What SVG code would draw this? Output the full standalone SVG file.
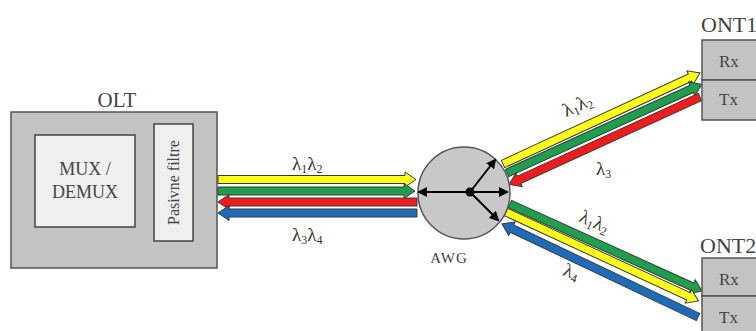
<svg xmlns="http://www.w3.org/2000/svg" width="756" height="331" viewBox="0 0 756 331">
<defs>
<style>
.box{fill:#c3c3c3;stroke:#555;stroke-width:1.5}
.inner{fill:#efefef;stroke:#444;stroke-width:1.5}
.t{font-family:"Liberation Serif",serif;fill:#444}
.lam{font-family:"Liberation Serif",serif;fill:#333;font-size:19px}
.s{font-size:12px}
.y{fill:#ffff1a;stroke:#3a3a3a;stroke-width:1}
.g{fill:#1f9e4e;stroke:#3a3a3a;stroke-width:1}
.r{fill:#ee1c1c;stroke:#3a3a3a;stroke-width:1}
.b{fill:#1e6cb8;stroke:#3a3a3a;stroke-width:1}
.ax{stroke:#000;stroke-width:2;fill:none}
</style>
<marker id="ah" markerWidth="10" markerHeight="10" refX="8" refY="5" orient="auto" markerUnits="userSpaceOnUse">
<path d="M0,0 L10,5 L0,10 Z" fill="#000"/>
</marker>
</defs>
<rect width="756" height="331" fill="#fff"/>

<g id="olt">
<text class="t" x="117" y="107" font-size="21" text-anchor="middle">OLT</text>
<rect class="box" x="11" y="112" width="206" height="156"/>
</g>
<g id="mux">
<rect class="inner" x="35" y="135" width="100" height="92"/>
<text class="t" x="85" y="175" font-size="18" text-anchor="middle">MUX /</text>
<text class="t" x="85" y="198" font-size="18" text-anchor="middle">DEMUX</text>
</g>
<g id="filtre">
<rect class="inner" x="154" y="124" width="39" height="117"/>
<text class="t" transform="translate(179,182.5) rotate(-90)" font-size="16" text-anchor="middle">Pasivne filtre</text>
</g>

<g id="connectors">
<!-- horizontal -->
<polygon class="y" transform="translate(218,179.5)" points="0,-4 187,-4 187,-7.5 198,0 187,7.5 187,4 0,4"/>
<polygon class="g" transform="translate(218,191)" points="0,-4 186,-4 186,-7.5 197,0 186,7.5 186,4 0,4"/>
<polygon class="r" transform="translate(417,202) rotate(180)" points="0,-4 188,-4 188,-7.5 199,0 188,7.5 188,4 0,4"/>
<polygon class="b" transform="translate(417,213) rotate(180)" points="0,-4 188,-4 188,-7.5 199,0 188,7.5 188,4 0,4"/>
<!-- upper diagonal -->
<polygon class="y" transform="translate(503,164) rotate(-24.8)" points="0,-4 206,-4 206,-7.5 217,0 206,7.5 206,4 0,4"/>
<polygon class="g" transform="translate(507,173) rotate(-24.5)" points="0,-4 203,-4 203,-7.5 214,0 203,7.5 203,4 0,4"/>
<polygon class="r" transform="translate(700,97) rotate(155.4)" points="0,-4 199,-4 199,-7.5 210,0 199,7.5 199,4 0,4"/>
<!-- lower diagonal -->
<polygon class="g" transform="translate(510,204) rotate(24.4)" points="0,-4 200,-4 200,-7.5 211,0 200,7.5 200,4 0,4"/>
<polygon class="y" transform="translate(506,212) rotate(24.8)" points="0,-4 201,-4 201,-7.5 212,0 201,7.5 201,4 0,4"/>
<polygon class="b" transform="translate(698,317) rotate(205.4)" points="0,-4 206,-4 206,-7.5 217,0 206,7.5 206,4 0,4"/>
</g>

<g id="labels">
<text class="lam" x="292" y="170">λ<tspan class="s" dy="3">1</tspan><tspan dy="-3">λ</tspan><tspan class="s" dy="3">2</tspan></text>
<text class="lam" x="292" y="241">λ<tspan class="s" dy="3">3</tspan><tspan dy="-3">λ</tspan><tspan class="s" dy="3">4</tspan></text>
<text class="lam" transform="translate(566,117) rotate(-24)">λ<tspan class="s" dy="3">1</tspan><tspan dy="-3">λ</tspan><tspan class="s" dy="3">2</tspan></text>
<text class="lam" x="596" y="175">λ<tspan class="s" dy="3">3</tspan></text>
<text class="lam" transform="translate(578,221) rotate(24)">λ<tspan class="s" dy="3">1</tspan><tspan dy="-3">λ</tspan><tspan class="s" dy="3">2</tspan></text>
<text class="lam" transform="translate(562,275) rotate(20)">λ<tspan class="s" dy="3">4</tspan></text>
</g>

<g id="awg">
<circle cx="464" cy="193" r="46" fill="#c8c8c8" stroke="#555" stroke-width="1.5"/>
<line class="ax" x1="470" y1="192" x2="419" y2="192" marker-end="url(#ah)"/>
<line class="ax" x1="470" y1="192" x2="507" y2="192" marker-end="url(#ah)"/>
<line class="ax" x1="470" y1="192" x2="495" y2="160" marker-end="url(#ah)"/>
<line class="ax" x1="470" y1="192" x2="498" y2="220" marker-end="url(#ah)"/>
<circle cx="470" cy="192" r="4.5" fill="#000"/>
<text class="t" x="449" y="263" font-size="15" text-anchor="middle" letter-spacing="1">AWG</text>
</g>

<g id="ont1">
<text class="t" x="701" y="32" font-size="22">ONT1</text>
<rect class="box" x="702" y="40" width="70" height="40"/>
<rect class="box" x="702" y="80" width="70" height="40"/>
<text class="t" x="719" y="67" font-size="17">Rx</text>
<text class="t" x="719" y="105" font-size="17">Tx</text>
</g>

<g id="ont2">
<text class="t" x="700" y="253" font-size="22">ONT2</text>
<rect class="box" x="702" y="258" width="70" height="38"/>
<rect class="box" x="702" y="296" width="70" height="40"/>
<text class="t" x="719" y="285" font-size="17">Rx</text>
<text class="t" x="719" y="323" font-size="17">Tx</text>
</g>
</svg>
